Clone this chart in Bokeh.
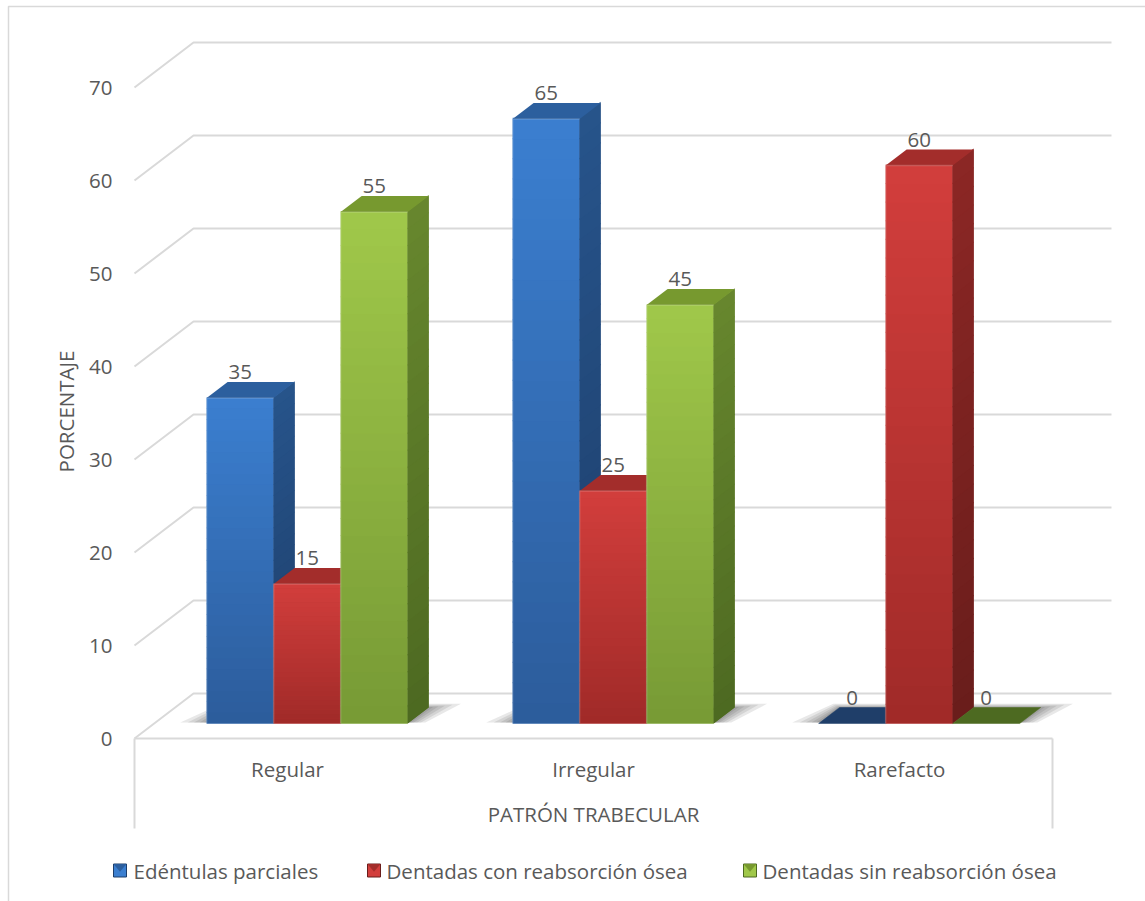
import numpy as np
from bokeh.plotting import figure
from bokeh.models import Range1d
from bokeh.embed import file_html
from bokeh.resources import INLINE
from bokeh.core.properties import value

# ---- data -------------------------------------------------------------
categories = ["Regular", "Irregular", "Rarefacto"]
series_names = ["Edéntulas parciales",
                "Dentadas con reabsorción ósea",
                "Dentadas sin reabsorción ósea"]
edentulas_parciales = [35, 65, 0]
dentadas_con_reabsorcion = [15, 25, 60]
dentadas_sin_reabsorcion = [55, 45, 0]
value_ticks = [0, 10, 20, 30, 40, 50, 60, 70]
y_title = "PORCENTAJE"
x_title = "PATRÓN TRABECULAR"

series_values = [edentulas_parciales, dentadas_con_reabsorcion, dentadas_sin_reabsorcion]

# ---- styling ----------------------------------------------------------
palette = [
    dict(front=("#3b7fd0", "#2c5c9b"), side=("#27548b", "#1d3e6a"), top="#2c5f9e", flat="#1f3e69"),
    dict(front=("#d23e3c", "#a02a28"), side=("#8c2725", "#691d1b"), top="#a32d2b", flat="#7a2220"),
    dict(front=("#a0c84a", "#779a35"), side=("#67872e", "#4d6921"), top="#77992f", flat="#4d6a21"),
]
TEXT = "#595959"
GRID = "#d9d9d9"
FONT = value("Open Sans")
FS = "20.5px"

# oblique projection: a category is 306 px wide, one point is 9.3 px high,
# the full floor depth shifts by 59 px right and 45 px up
W, H = 1145, 901
CAT_PX, UNIT_PX = 306.0, 9.3
OX, OY = 134.0, 738.0
DX = 59.0 / CAT_PX
DY = 45.0 / UNIT_PX
N_CAT = len(categories)


def px_x(px):
    return (px - OX) / CAT_PX


def px_y(py):
    return (OY - py) / UNIT_PX


def lerp(c1, c2, t):
    a = [int(c1[i:i + 2], 16) for i in (1, 3, 5)]
    b = [int(c2[i:i + 2], 16) for i in (1, 3, 5)]
    return "#%02x%02x%02x" % tuple(round(a[k] + (b[k] - a[k]) * t) for k in range(3))


p = figure(width=W, height=H,
           x_range=Range1d(px_x(0), px_x(W)), y_range=Range1d(px_y(H), px_y(0)),
           x_axis_location=None, y_axis_location=None,
           output_backend="svg", toolbar_location=None, min_border=0)
p.grid.visible = False
p.outline_line_color = None
p.background_fill_color = "white"

# chart area border
p.quad(left=px_x(8), right=px_x(W + 20), top=px_y(6), bottom=px_y(H + 20),
       fill_color=None, line_color=GRID, line_width=1.5)

# back wall gridlines with their diagonal returns on the side wall
gx = [[0, DX, N_CAT + DX] for _ in value_ticks]
gy = [[v, v + DY, v + DY] for v in value_ticks]
p.multi_line(gx, gy, line_color=GRID, line_width=2)

# floor front edge and category box
p.multi_line([[0, N_CAT], [0, 0], [N_CAT, N_CAT]],
             [[0, 0], [0, px_y(828)], [0, px_y(828)]],
             line_color=GRID, line_width=2)

# tick labels on the value axis
p.text(x=[px_x(112)] * len(value_ticks), y=value_ticks, text=[str(v) for v in value_ticks],
       text_align="right", text_baseline="middle", text_font=FONT,
       text_font_size=FS, text_color=TEXT)

# bar geometry
BAR_W = 0.219
GROUP_OFF = (1 - 3 * BAR_W) / 2
Z0, Z1 = 0.333, 0.689
N = 30

# soft floor shadows under each group
for c in range(N_CAT):
    ul = c + GROUP_OFF
    ur = ul + 3 * BAR_W
    for e in [0.09, 0.066, 0.045, 0.027, 0.012]:
        za, zb = Z0 + 0.02, Z1 + e * 0.9
        xs = [ul - e + za * DX, ur + e * 0.6 + za * DX, ur + e + zb * DX, ul - e * 0.4 + zb * DX]
        ys = [za * DY, za * DY, zb * DY, zb * DY]
        p.patch(xs, ys, fill_color="#202020", fill_alpha=0.1, line_color=None)

label_x, label_y, label_t = [], [], []
for c in range(N_CAT):
    for s in range(len(series_values)):
        v = series_values[s][c]
        col = palette[s]
        u0 = c + GROUP_OFF + s * BAR_W
        u1 = u0 + BAR_W
        fx0, fx1 = u0 + Z0 * DX, u1 + Z0 * DX
        bx0, bx1 = u0 + Z1 * DX, u1 + Z1 * DX
        fy, by = Z0 * DY, Z1 * DY
        label_x.append((fx0 + fx1) / 2)
        label_y.append(fy + v + 26 / UNIT_PX)
        label_t.append(str(v))
        if v == 0:
            p.patch([fx0, fx1, bx1, bx0], [fy, fy, by, by],
                    fill_color=col["flat"], line_color=col["flat"], line_width=0.5)
            continue
        hs = np.linspace(0, v, N + 1)
        # front face
        p.quad(left=fx0, right=fx1, bottom=fy, top=fy + v,
               fill_color=lerp(col["front"][1], col["front"][0], 0.5), line_color=None)
        p.quad(left=[fx0] * N, right=[fx1] * N,
               bottom=list(fy + hs[:-1]), top=list(fy + hs[1:] + v * 0.002),
               fill_color=[lerp(col["front"][1], col["front"][0], (k + 0.5) / N) for k in range(N)],
               line_color=None)
        # side face
        p.patch([fx1, bx1, bx1, fx1], [fy, by, by + v, fy + v],
                fill_color=lerp(col["side"][1], col["side"][0], 0.5), line_color=None)
        sxs, sys_ = [], []
        for k in range(N):
            a, b = hs[k], hs[k + 1] + v * 0.002
            sxs.append([fx1, bx1, bx1, fx1])
            sys_.append([fy + a, by + a, by + b, fy + b])
        p.patches(sxs, sys_, fill_color=[lerp(col["side"][1], col["side"][0], (k + 0.5) / N) for k in range(N)],
                  line_color=None)
        # top face
        p.patch([fx0, fx1, bx1, bx0], [fy + v, fy + v, by + v, by + v],
                fill_color=col["top"], line_color=None)
        # soft highlight along the front edges
        p.line([fx0, fx0, fx1], [fy, fy + v, fy + v],
               line_color="white", line_alpha=0.18, line_width=1.5)

# value labels
p.text(x=label_x, y=label_y, text=label_t, text_align="center", text_baseline="middle",
       text_font=FONT, text_font_size=FS, text_color=TEXT)

# category labels and axis titles
p.text(x=[c + 0.5 for c in range(N_CAT)], y=[px_y(768)] * N_CAT, text=categories,
       text_align="center", text_baseline="middle", text_font=FONT,
       text_font_size=FS, text_color=TEXT)
p.text(x=[N_CAT / 2], y=[px_y(813)], text=[x_title], text_align="center",
       text_baseline="middle", text_font=FONT, text_font_size=FS, text_color=TEXT)
p.text(x=[px_x(65)], y=[px_y(411)], text=[y_title], angle=np.pi / 2,
       text_align="center", text_baseline="middle", text_font=FONT,
       text_font_size=FS, text_color=TEXT)

# legend
leg_marker_px = [119.5, 373.5, 749.5]
leg_text_px = [133, 386, 762]
leg_y = px_y(870)
half_w = 6.5 / CAT_PX
half_h = 6.5 / UNIT_PX
for s in range(len(series_names)):
    mx = px_x(leg_marker_px[s])
    p.quad(left=mx - half_w, right=mx + half_w, bottom=leg_y - half_h, top=leg_y + half_h,
           fill_color=palette[s]["front"][0], line_color=palette[s]["side"][1], line_width=1)
    p.patch([mx - half_w, mx + half_w, mx], [leg_y + half_h, leg_y + half_h, leg_y - half_h * 0.2],
            fill_color=palette[s]["top"], line_color=None)
p.text(x=[px_x(t) for t in leg_text_px], y=[leg_y] * len(series_names), text=series_names,
       text_align="left", text_baseline="middle", text_font=FONT,
       text_font_size=FS, text_color=TEXT)

open("out.html", "w").write(file_html(p, INLINE))
